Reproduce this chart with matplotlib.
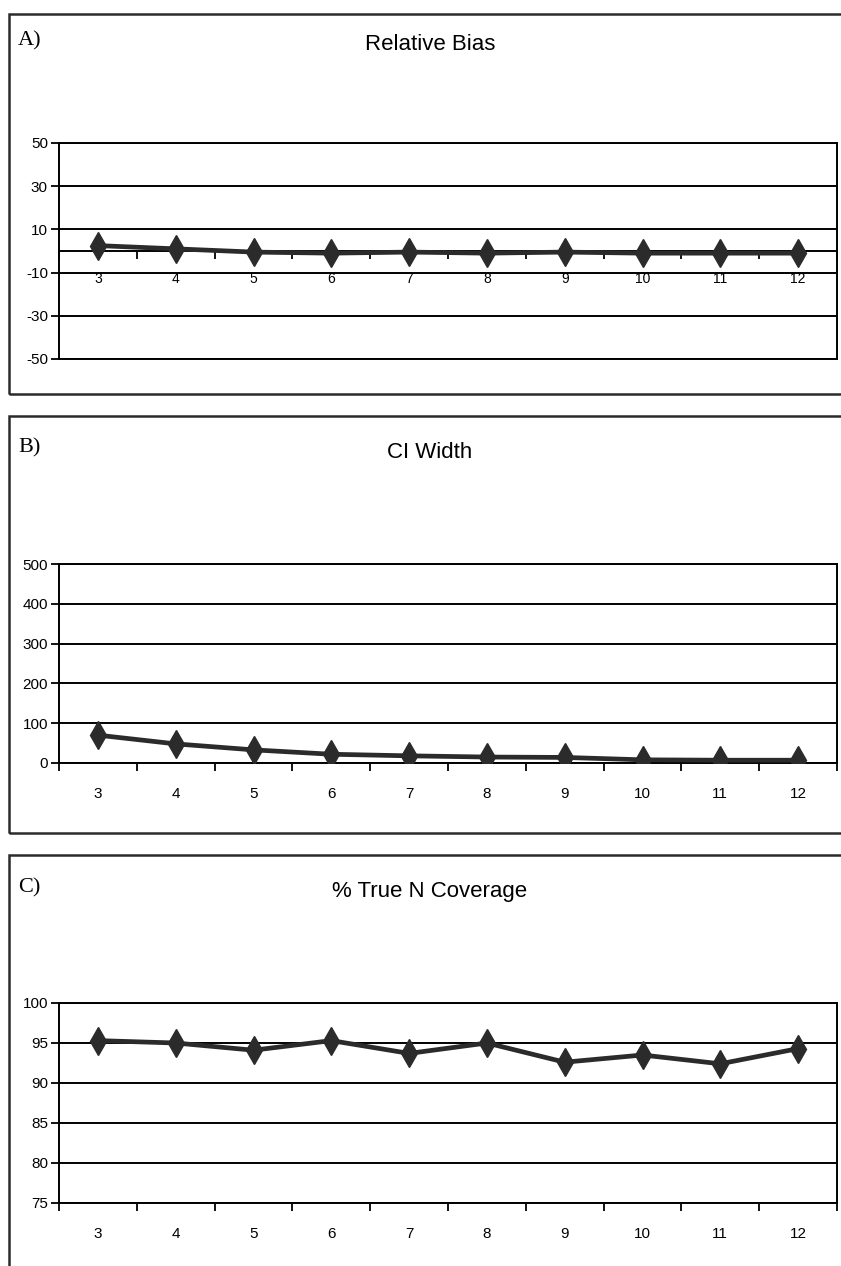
import matplotlib
matplotlib.use('Agg')
import matplotlib.pyplot as plt
from matplotlib.patches import Rectangle
import numpy as np

# data
categories = [3, 4, 5, 6, 7, 8, 9, 10, 11, 12]
x_labels = ['3', '4', '5', '6', '7', '8', '9', '10', '11', '12']
relative_bias = [2.5, 1.0, -0.5, -1.0, -0.5, -1.0, -0.5, -1.0, -1.0, -1.0]
ci_width = [70, 48, 33, 22, 18, 15, 14, 8, 7, 7]
coverage = [95.3, 95.0, 94.1, 95.3, 93.7, 95.0, 92.6, 93.5, 92.4, 94.3]

bias_ticks = [50, 30, 10, -10, -30, -50]
width_ticks = [500, 400, 300, 200, 100, 0]
cov_ticks = [100, 95, 90, 85, 80, 75]

W, H = 841, 1266
SANS = ['Liberation Sans', 'DejaVu Sans']
SERIF = ['Liberation Serif', 'DejaVu Serif']
INK = '#2b2b2b'

fig = plt.figure(figsize=(W / 100, H / 100), dpi=100)


def fx(px):
    return px / W


def fy(py):
    return 1 - py / H


panels = [
    dict(tag='A)', title='Relative Bias', y=relative_bias, ticks=bias_ticks,
         lim=(-50, 50), frame=(14, 394), ax_box=(143, 359), text_y=45,
         zero_axis=True),
    dict(tag='B)', title='CI Width', y=ci_width, ticks=width_ticks,
         lim=(0, 500), frame=(416, 833), ax_box=(564, 763), text_y=452,
         zero_axis=False),
    dict(tag='C)', title='% True N Coverage', y=coverage, ticks=cov_ticks,
         lim=(75, 100), frame=(855, 1300), ax_box=(1003, 1203), text_y=892,
         zero_axis=False),
]

ax_left, ax_right = 59, 837

for p in panels:
    ftop, fbot = p['frame']
    fig.patches.append(Rectangle((fx(8.5), fy(fbot)), fx(851) - fx(8.5), (fbot - ftop) / H,
                                 transform=fig.transFigure, fill=False, lw=1.8, ec=INK))
    fig.text(fx(18), fy(p['text_y'] - 4), p['tag'], family=SERIF, fontsize=16,
             ha='left', va='center', color='black')
    fig.text(fx(430), fy(p['text_y']), p['title'], family=SANS, fontsize=16,
             ha='center', va='center', color='black')

    top, bot = p['ax_box']
    ax = fig.add_axes([fx(ax_left), fy(bot), fx(ax_right) - fx(ax_left), (bot - top) / H])
    xs = np.arange(len(categories))
    ax.plot(xs, p['y'], color=INK, lw=3.4, marker='d', ms=14,
            mfc=INK, mec=INK, zorder=3)
    ax.set_xlim(-0.5, len(categories) - 0.5)
    ax.set_ylim(*p['lim'])
    ax.set_yticks(p['ticks'], [str(t) for t in p['ticks']])
    ax.grid(axis='y', color='black', lw=1.4)
    for s in ax.spines.values():
        s.set_linewidth(1.4)
        s.set_color('black')

    bounds = np.arange(-0.5, len(categories), 1.0)
    ax.set_xticks(bounds, [''] * len(bounds))
    ax.set_xticks(xs, x_labels, minor=True)
    ax.tick_params(axis='y', length=6, width=1.3, pad=2, labelsize=11,
                   labelfontfamily=SANS)
    ax.tick_params(axis='x', which='major', length=6, width=1.3, direction='out')

    if p['zero_axis']:
        ax.spines['bottom'].set_position(('data', 0))
        ax.axhline(p['lim'][0], color='black', lw=1.4, clip_on=False)
        ax.tick_params(axis='x', which='minor', length=0, pad=15, labelsize=10,
                       labelfontfamily=SANS)
    else:
        ax.tick_params(axis='x', which='minor', length=0, pad=17, labelsize=11,
                       labelfontfamily=SANS)

fig.savefig('out.png', dpi=100)
